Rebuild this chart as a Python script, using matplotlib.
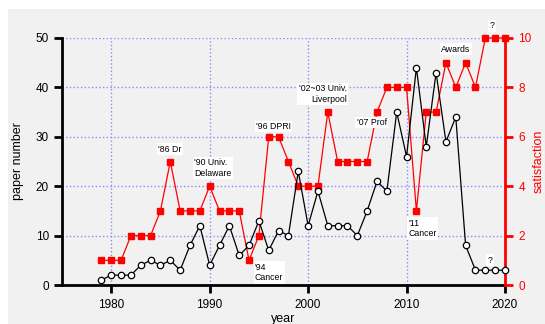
import matplotlib
matplotlib.use("Agg")
import matplotlib.pyplot as plt
from matplotlib.patches import Rectangle

plt.rcParams['font.family'] = ['Liberation Sans', 'DejaVu Sans']

years = list(range(1979, 2021))
paper_number = [1, 2, 2, 2, 4, 5, 4, 5, 3, 8, 12, 4, 8, 12, 6, 8, 13, 7, 11, 10,
                23, 12, 19, 12, 12, 12, 10, 15, 21, 19, 35, 26, 44, 28, 43, 29, 34,
                8, 3, 3, 3, 3]
satisfaction = [1, 1, 1, 2, 2, 2, 3, 5, 3, 3, 3, 4, 3, 3, 3, 1, 2, 6, 6, 5,
                4, 4, 4, 7, 5, 5, 5, 5, 7, 8, 8, 8, 3, 7, 7, 9, 8, 9, 8, 10, 10, 10]

# annotations: (text, x year, y satisfaction, horizontal alignment)
notes = [
    ("'86 Dr", 1984.75, 5.5, 'left'),
    ("'90 Univ.\nDelaware", 1988.4, 4.74, 'left'),
    ("'94\nCancer", 1994.6, 0.51, 'left'),
    ("'96 DPRI", 1994.7, 6.42, 'left'),
    ("'02~03 Univ.\nLiverpool", 2003.93, 7.73, 'right'),
    ("'07 Prof", 2004.95, 6.58, 'left'),
    ("'11\nCancer", 2010.2, 2.29, 'left'),
    ("Awards", 2013.5, 9.55, 'left'),
    ("?", 2018.7, 10.49, 'center'),
    ("?", 2018.45, 1.01, 'center'),
]

W, H = 545, 324
fig = plt.figure(figsize=(W / 100, H / 100), dpi=100)
fig.patch.set_facecolor('white')
fig.patches.append(Rectangle((8 / W, 0), 1 - 8 / W, 1 - 9 / H, transform=fig.transFigure,
                             facecolor='#f1f1f1', edgecolor='none', zorder=-10))

ax = fig.add_axes([62 / W, 39 / H, (505 - 62) / W, (285 - 38) / H])
ax.set_facecolor('#f1f1f1')
ax.set_xlim(1975, 2020)
ax.set_ylim(0, 50)
ax.set_xticks([1980, 1990, 2000, 2010, 2020])
ax.set_yticks([0, 10, 20, 30, 40, 50])
for sp in ['top', 'right']:
    ax.spines[sp].set_visible(False)
for sp in ['left', 'bottom']:
    ax.spines[sp].set_linewidth(2)
ax.tick_params(axis='both', direction='out', length=6, width=2, labelsize=8.5, colors='black')
ax.tick_params(axis='x', pad=4)
ax.grid(True, color='#8a8aff', linestyle=':', linewidth=1)
ax.set_axisbelow(True)
ax.set_xlabel('year', fontsize=9, labelpad=1.5)
ax.set_ylabel('paper number', fontsize=9, labelpad=8)

ax2 = ax.twinx()
ax2.set_ylim(0, 10)
ax2.set_yticks([0, 2, 4, 6, 8, 10])
for sp in ['top', 'left', 'bottom']:
    ax2.spines[sp].set_visible(False)
ax2.spines['right'].set_color('red')
ax2.spines['right'].set_linewidth(2)
ax2.tick_params(axis='y', direction='out', length=6, width=2, labelsize=8.5, colors='red')
ax2.set_ylabel('satisfaction', fontsize=9, color='red', labelpad=1)

ax2.plot(years, satisfaction, color='red', linewidth=0.9, marker='s', markersize=5,
         markerfacecolor='red', markeredgecolor='red', clip_on=False, zorder=3)
ax2.plot(years, [v / 5 for v in paper_number], color='black', linewidth=0.9, marker='o',
         markersize=4.6, markerfacecolor='white', markeredgecolor='black',
         markeredgewidth=0.9, clip_on=False, zorder=4)

for txt, x, y, ha in notes:
    ax2.text(x, y, txt, fontsize=6.3, ha=ha, va='center', zorder=5,
             multialignment=ha if ha != 'center' else 'center',
             bbox=dict(facecolor='white', edgecolor='none', pad=1))

fig.savefig('out.png', dpi=100)
